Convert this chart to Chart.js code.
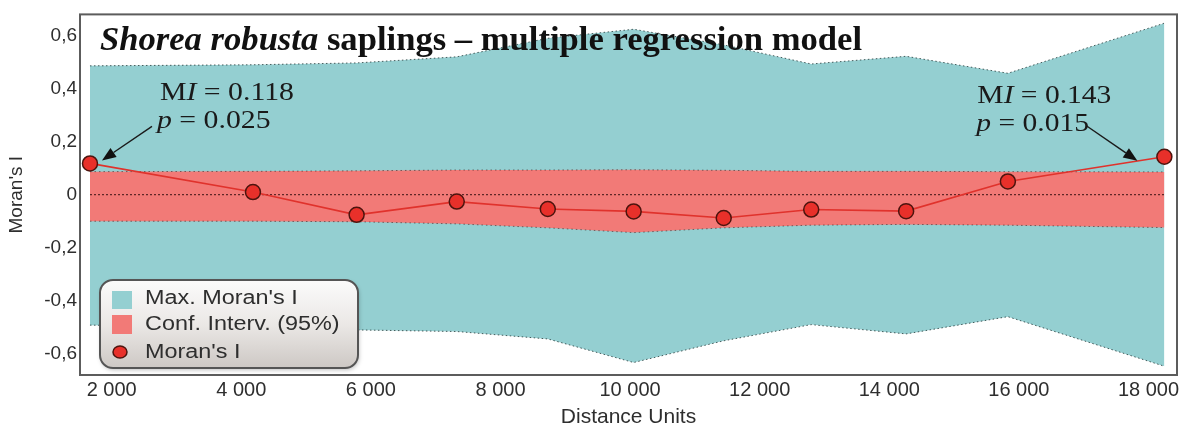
<!DOCTYPE html>
<html>
<head>
<meta charset="utf-8">
<title>Shorea robusta saplings – Moran's I correlogram</title>
<script src="https://cdn.jsdelivr.net/npm/chart.js@4.4.1/dist/chart.umd.min.js"></script>
<style>
  html, body { margin: 0; padding: 0; background: #ffffff; }
  canvas { display: block; }
</style>
</head>
<body>
<canvas id="correlogram" width="1195" height="428"></canvas>
<script>
// Distance classes (distance units)
const distances = [1665, 4180, 5780, 7325, 8730, 10055, 11445, 12795, 14260, 15830, 18245];
// Observed Moran's I per distance class
const moransI = [0.118, 0.010, -0.076, -0.026, -0.054, -0.063, -0.088, -0.056, -0.062, 0.050, 0.143];
// Maximum Moran's I envelope
const maxUpper = [0.486, 0.490, 0.497, 0.520, 0.590, 0.624, 0.565, 0.493, 0.522, 0.458, 0.647];
const maxLower = [-0.492, -0.499, -0.510, -0.516, -0.544, -0.633, -0.551, -0.490, -0.525, -0.460, -0.647];
// 95% confidence interval
const ciUpper = [0.087, 0.088, 0.090, 0.093, 0.093, 0.094, 0.092, 0.088, 0.088, 0.087, 0.086];
const ciLower = [-0.100, -0.100, -0.102, -0.110, -0.125, -0.143, -0.125, -0.115, -0.112, -0.115, -0.124];
// Reference line at I = 0
const zeroLine = [0, 0, 0, 0, 0, 0, 0, 0, 0, 0, 0];
// Significance of the first and last distance classes
const pValues = [0.025, 0.015];
// Axis ticks
const xTicks = [2000, 4000, 6000, 8000, 10000, 12000, 14000, 16000, 18000];
const yTicks = [0.6, 0.4, 0.2, 0, -0.2, -0.4, -0.6];
const legendLabels = ["Max. Moran's I", "Conf. Interv. (95%)", "Moran's I"];

const CYAN = '#94CFD1';
const RED = '#F27A77';
const POINT_FILL = '#E8302A';
const POINT_EDGE = '#4d140e';

const toXY = arr => arr.map((v, i) => ({ x: distances[i], y: v }));
const fmtThousands = v => String(v).replace(/\B(?=(\d{3})+(?!\d))/g, ' ');
const fmtDecimal = v => (v === 0 ? '0' : v.toFixed(1).replace('.', ','));

// draw a run of differently styled pieces of text, stretched horizontally by sx
function richWidth(ctx, parts, size, family) {
  let w = 0;
  for (const p of parts) {
    ctx.font = `${p.style || ''} ${size}px ${family}`;
    w += ctx.measureText(p.text).width;
  }
  return w;
}
function richText(ctx, parts, x, y, size, family, sx, color) {
  ctx.save();
  ctx.translate(x, y);
  ctx.scale(sx, 1);
  ctx.fillStyle = color;
  ctx.textBaseline = 'alphabetic';
  ctx.textAlign = 'left';
  let cx = 0;
  for (const p of parts) {
    ctx.font = `${p.style || ''} ${size}px ${family}`;
    ctx.fillText(p.text, cx, 0);
    cx += ctx.measureText(p.text).width;
  }
  ctx.restore();
}
function arrow(ctx, x0, y0, x1, y1) {
  const ang = Math.atan2(y1 - y0, x1 - x0);
  const len = 14, half = 5.5;
  const bx = x1 - len * Math.cos(ang), by = y1 - len * Math.sin(ang);
  ctx.save();
  ctx.strokeStyle = '#1a1a1a';
  ctx.fillStyle = '#111';
  ctx.lineWidth = 1.4;
  ctx.beginPath();
  ctx.moveTo(x0, y0);
  ctx.lineTo(bx, by);
  ctx.stroke();
  ctx.beginPath();
  ctx.moveTo(x1, y1);
  ctx.lineTo(bx + half * Math.sin(ang), by - half * Math.cos(ang));
  ctx.lineTo(bx - half * Math.sin(ang), by + half * Math.cos(ang));
  ctx.closePath();
  ctx.fill();
  ctx.restore();
}

const decorations = {
  id: 'decorations',
  afterDatasetsDraw(chart) {
    const ctx = chart.ctx;
    const ca = chart.chartArea;
    const xs = chart.scales.x, ys = chart.scales.y;

    // Title inside the plot frame
    const titleParts = [
      { text: 'Shorea robusta', style: 'italic bold' },
      { text: ' saplings \u2013 multiple regression model', style: 'bold' }
    ];
    const tw = richWidth(ctx, titleParts, 33, '"Liberation Serif"');
    richText(ctx, titleParts, ca.left + 20, ca.top + 36, 33, '"Liberation Serif"', 762 / tw, '#111111');

    // Annotations for the first and last distance classes
    const last = moransI.length - 1;
    const notes = [
      { i: 0, p: pValues[0], tip: [12, -3], tail: [62, -37], t1: [70, -63], t2: [67, -35] },
      { i: last, p: pValues[1], tip: [-27, 4], tail: [-78, -31], t1: [-187, -54], t2: [-188, -26] }
    ];
    for (const n of notes) {
      const px = xs.getPixelForValue(distances[n.i]);
      const py = ys.getPixelForValue(moransI[n.i]);
      const line1 = [
        { text: 'M', style: '' },
        { text: 'I', style: 'italic' },
        { text: ' = ' + moransI[n.i].toFixed(3), style: '' }
      ];
      const line2 = [
        { text: 'p', style: 'italic' },
        { text: ' = ' + n.p.toFixed(3), style: '' }
      ];
      const w1 = richWidth(ctx, line1, 26, '"Liberation Serif"');
      const sx = 134 / w1;
      richText(ctx, line1, px + n.t1[0], py + n.t1[1], 26, '"Liberation Serif"', sx, '#1a1a1a');
      richText(ctx, line2, px + n.t2[0], py + n.t2[1], 26, '"Liberation Serif"', sx, '#1a1a1a');
      arrow(ctx, px + n.tail[0], py + n.tail[1], px + n.tip[0], py + n.tip[1]);
    }
  },
  afterDraw(chart) {
    const ctx = chart.ctx;
    const ca = chart.chartArea;

    // Legend box in the lower-left corner of the plot
    const bx = ca.left + 20, by = ca.bottom - 95, bw = 258, bh = 88, r = 13;
    ctx.save();
    ctx.shadowColor = 'rgba(0,0,0,0.25)';
    ctx.shadowBlur = 4;
    ctx.shadowOffsetX = 1;
    ctx.shadowOffsetY = 2;
    const g = ctx.createLinearGradient(0, by, 0, by + bh);
    g.addColorStop(0, '#fbfbfb');
    g.addColorStop(0.5, '#ebe8e6');
    g.addColorStop(1, '#cdc8c4');
    ctx.beginPath();
    ctx.roundRect(bx, by, bw, bh, r);
    ctx.fillStyle = g;
    ctx.fill();
    ctx.shadowColor = 'transparent';
    ctx.lineWidth = 2;
    ctx.strokeStyle = '#555555';
    ctx.stroke();
    ctx.restore();

    ctx.save();
    ctx.fillStyle = CYAN;
    ctx.fillRect(bx + 12, by + 11, 20, 18);
    ctx.fillStyle = RED;
    ctx.fillRect(bx + 12, by + 35, 20, 19);
    ctx.beginPath();
    ctx.ellipse(bx + 20, by + 72, 7, 6, 0, 0, Math.PI * 2);
    ctx.fillStyle = POINT_FILL;
    ctx.fill();
    ctx.lineWidth = 1.5;
    ctx.strokeStyle = POINT_EDGE;
    ctx.stroke();
    ctx.restore();

    const rows = [by + 24, by + 50, by + 78];
    legendLabels.forEach((lab, k) => {
      richText(ctx, [{ text: lab, style: '' }], bx + 45, rows[k], 20, '"Liberation Sans"', 1.17, '#2e2e2e');
    });

    // Plot frame
    ctx.save();
    ctx.lineWidth = 2;
    ctx.strokeStyle = '#5c5c5c';
    ctx.strokeRect(ca.left, ca.top, ca.right - ca.left, ca.bottom - ca.top);
    ctx.restore();
  }
};

new Chart(document.getElementById('correlogram'), {
  type: 'line',
  data: {
    datasets: [
      {
        label: "Moran's I",
        data: toXY(moransI),
        borderColor: '#E0322C',
        borderWidth: 1.6,
        pointRadius: 7.5,
        pointHoverRadius: 7.5,
        pointBackgroundColor: POINT_FILL,
        pointBorderColor: POINT_EDGE,
        pointBorderWidth: 1.5,
        tension: 0,
        fill: false,
        order: 0
      },
      {
        label: 'zero',
        data: toXY(zeroLine),
        borderColor: 'rgba(80,30,30,0.9)',
        borderWidth: 1.2,
        borderDash: [2, 2],
        pointRadius: 0,
        fill: false,
        order: 1
      },
      {
        label: 'CI upper',
        data: toXY(ciUpper),
        borderColor: 'rgba(60,35,35,0.6)',
        borderWidth: 1,
        borderDash: [1.5, 3],
        backgroundColor: RED,
        pointRadius: 0,
        fill: '+1',
        order: 2
      },
      {
        label: 'CI lower',
        data: toXY(ciLower),
        borderColor: 'rgba(60,35,35,0.6)',
        borderWidth: 1,
        borderDash: [1.5, 3],
        pointRadius: 0,
        fill: false,
        order: 3
      },
      {
        label: 'Max upper',
        data: toXY(maxUpper),
        borderColor: 'rgba(25,45,45,0.75)',
        borderWidth: 1,
        borderDash: [1.5, 2.5],
        backgroundColor: CYAN,
        pointRadius: 0,
        fill: '+1',
        order: 4
      },
      {
        label: 'Max lower',
        data: toXY(maxLower),
        borderColor: 'rgba(25,45,45,0.75)',
        borderWidth: 1,
        borderDash: [1.5, 2.5],
        pointRadius: 0,
        fill: false,
        order: 5
      }
    ]
  },
  options: {
    responsive: false,
    animation: false,
    events: [],
    layout: { padding: { top: 11, right: 18, left: 0, bottom: 0 } },
    plugins: {
      legend: { display: false },
      tooltip: { enabled: false },
      filler: { drawTime: 'beforeDatasetsDraw' }
    },
    scales: {
      x: {
        type: 'linear',
        min: 1511,
        max: 18440,
        grid: { display: false, drawTicks: false },
        border: { display: false },
        afterBuildTicks: s => { s.ticks = xTicks.map(v => ({ value: v })); },
        afterFit: s => { s.height = 53; },
        ticks: {
          padding: 3,
          autoSkip: false,
          maxRotation: 0,
          color: '#2e2e2e',
          font: { family: '"Liberation Sans"', size: 20 },
          callback: v => fmtThousands(v)
        },
        title: {
          display: true,
          text: 'Distance Units',
          color: '#2e2e2e',
          font: { family: '"Liberation Sans"', size: 21 },
          padding: { top: 0, bottom: -2 }
        }
      },
      y: {
        type: 'linear',
        min: -0.68,
        max: 0.68,
        grid: { display: false, drawTicks: false },
        border: { display: false },
        afterBuildTicks: s => { s.ticks = yTicks.map(v => ({ value: v })); },
        afterFit: s => { s.width = 80; },
        ticks: {
          padding: 3,
          color: '#2e2e2e',
          font: { family: '"Liberation Sans"', size: 19 },
          callback: v => fmtDecimal(v)
        },
        title: {
          display: true,
          text: "Moran's I",
          color: '#2e2e2e',
          font: { family: '"Liberation Sans"', size: 19 },
          padding: { top: 5, bottom: 0 }
        }
      }
    }
  },
  plugins: [decorations]
});
</script>
</body>
</html>
